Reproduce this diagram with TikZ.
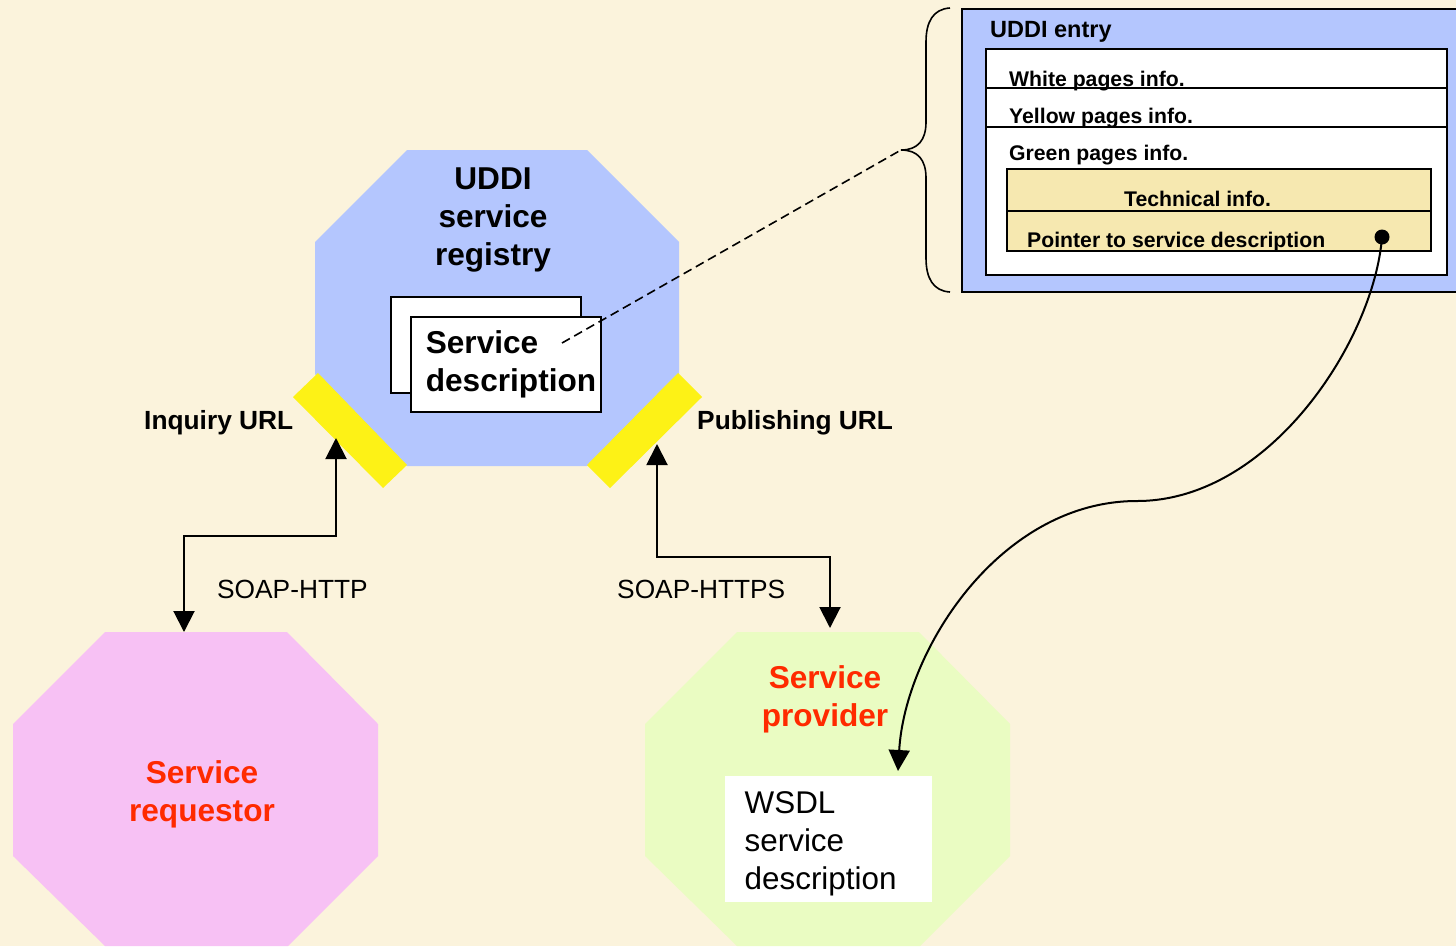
\documentclass[tikz,border=0pt]{standalone}
\usepackage{fontspec}
\setmainfont{Liberation Sans}
\usetikzlibrary{arrows.meta}
\definecolor{bgc}{HTML}{FBF3DC}
\definecolor{bluec}{HTML}{B4C6FE}
\definecolor{yellowc}{HTML}{FDF216}
\definecolor{pinkc}{HTML}{F7C1F4}
\definecolor{greenc}{HTML}{EAFCC2}
\definecolor{tanc}{HTML}{F6E8B0}
\definecolor{redc}{HTML}{FF2A00}
\tikzset{
  x=1pt,y=-1pt,
  bigtext/.style={inner sep=0pt,align=left,font=\fontsize{31.4}{38}\selectfont},
  bigbold/.style={inner sep=0pt,align=center,font=\fontsize{31.6}{38}\selectfont\bfseries},
  redbold/.style={bigbold,text=redc},
  midbold/.style={inner sep=0pt,anchor=base west,font=\fontsize{26.3}{30}\selectfont\bfseries},
  midtext/.style={inner sep=0pt,anchor=base west,font=\fontsize{26.3}{30}\selectfont},
  smallbold/.style={inner sep=0pt,anchor=base west,font=\fontsize{21.2}{25}\selectfont\bfseries},
  entrybold/.style={inner sep=0pt,anchor=base west,font=\fontsize{23.5}{27}\selectfont\bfseries},
  whitebox/.style={draw=black,fill=white,line width=2pt},
  conn/.style={draw=black,line width=2pt,{Triangle[width=21pt,length=21pt]}-{Triangle[width=21pt,length=21pt]}},
}
\begin{document}
\begin{tikzpicture}
\useasboundingbox (0,0) rectangle (1456,946);
\fill[bgc] (0,0) rectangle (1456,946);

% octagons
\fill[bluec] (407,150) -- (587,150) -- (679,242) -- (679,374) -- (587,466) -- (407,466) -- (315,374) -- (315,242) -- cycle;
\fill[pinkc] (105,632) -- (287,632) -- (378,724) -- (378,856) -- (288,946) -- (105,946) -- (13,856) -- (13,724) -- cycle;
\fill[greenc] (737,632) -- (919,632) -- (1010,724) -- (1010,856) -- (920,946) -- (737,946) -- (645,856) -- (645,724) -- cycle;

% ports
\fill[yellowc] (318,373) -- (293,397) -- (383,488) -- (407,465) -- cycle;
\fill[yellowc] (678,373) -- (702,397) -- (610,488) -- (587,465) -- cycle;

% service description sheets
\draw[whitebox] (391,297) rectangle (581,393);
\draw[whitebox] (411,317) rectangle (601,412);

% text in registry
\node[bigbold] (reg) at (493,220) {UDDI\\service\\registry};
\node[bigtext,font=\fontsize{31.6}{38}\selectfont\bfseries] (sd) at (511,364.5) {Service\\description};

% requestor and provider
\node[redbold] (req) at (202,794) {Service\\requestor};
\node[redbold] (prov) at (825,699) {Service\\provider};
\node[fill=white,minimum width=207pt,minimum height=126pt,inner sep=0pt] (wbox) at (828.5,839) {};
\node[bigtext,anchor=west] (wsdl) at (744.5,844) {WSDL\\service\\description};

% URL and protocol labels
\node[midbold] (inq) at (144,429) {Inquiry URL};
\node[midbold] (pub) at (697,429) {Publishing URL};
\node[midtext] (sh) at (217,598.5) {SOAP-HTTP};
\node[midtext] (shs) at (617,598.5) {SOAP-HTTPS};

% UDDI entry
\draw[draw=black,fill=bluec,line width=2pt] (962,9) rectangle (1470,292);
\draw[whitebox,line width=2.4pt] (986,49) rectangle (1447,275);
\draw[black,line width=1.6pt] (986,88) -- (1447,88);
\draw[black,line width=1.6pt] (986,127) -- (1447,127);
\draw[draw=black,fill=tanc,line width=1.8pt] (1007,169) rectangle (1431,251);
\draw[black,line width=1.6pt] (1007,211) -- (1431,211);
\node[entrybold] (ue) at (990,37) {UDDI entry};
\node[smallbold] (wp) at (1009,86) {White pages info.};
\node[smallbold] (yp) at (1009,123) {Yellow pages info.};
\node[smallbold] (gp) at (1009,160) {Green pages info.};
\node[smallbold] (ti) at (1124,206) {Technical info.};
\node[smallbold] (pp) at (1027,247) {Pointer to service description};

% brace
\coordinate (btip) at (901,150);
\draw[black,line width=1.6pt] (950,8) .. controls (933,9) and (926,22) .. (926,42) -- (926,122) .. controls (926,140) and (918,150) .. (btip) .. controls (918,150) and (926,160) .. (926,178) -- (926,258) .. controls (926,278) and (933,291) .. (950,292);

% dashed link
\coordinate (dstart) at (562,343);
\draw[black,line width=1.6pt,dash pattern=on 9pt off 5pt] (dstart) -- (btip);

% connectors
\coordinate (a1) at (184,632);
\coordinate (a2) at (336,438);
\draw[conn] (a1) -- (184,536) -- (336,536) -- (a2);
\coordinate (b1) at (657,444);
\coordinate (b2) at (830,628);
\draw[conn] (b1) -- (657,557) -- (830,557) -- (b2);

% pointer
\node[circle,fill=black,minimum size=15pt,inner sep=0pt] (dot) at (1382,237) {};
\coordinate (pmid) at (1137,501);
\coordinate (ptip) at (898,771);
\draw[black,line width=2pt,-{Triangle[width=21pt,length=21pt]}] (dot.center) .. controls (1374,340) and (1270,501) .. (pmid) .. controls (1000,501) and (905,650) .. (ptip);
\end{tikzpicture}
\end{document}
